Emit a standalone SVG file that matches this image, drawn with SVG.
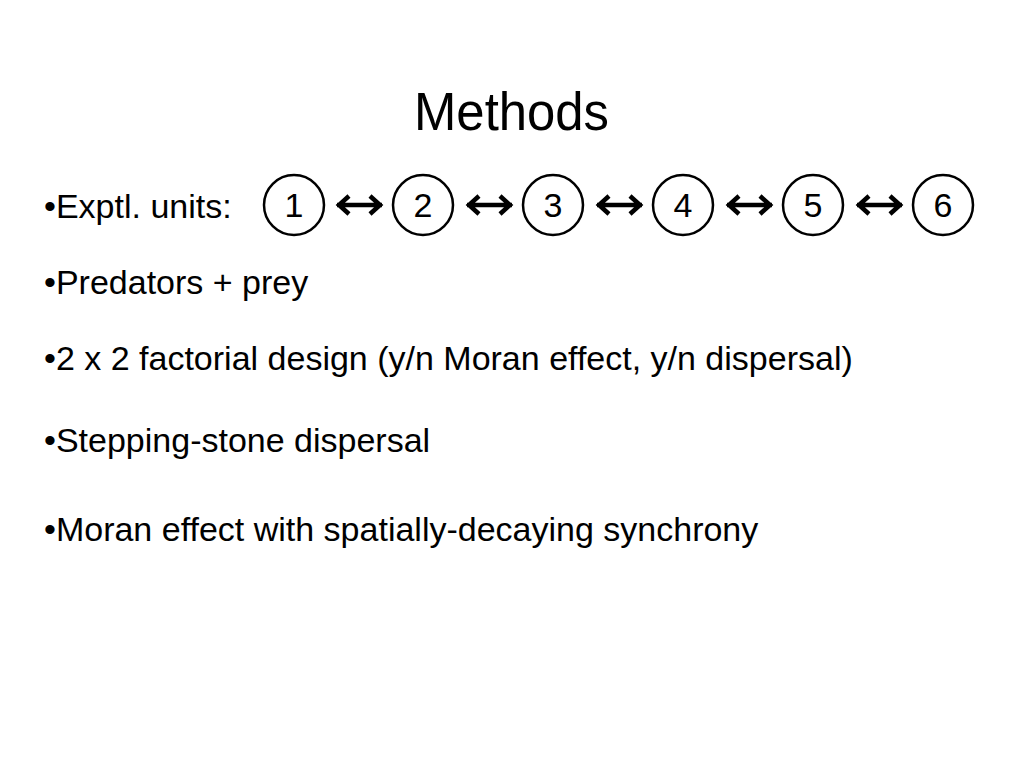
<svg xmlns="http://www.w3.org/2000/svg" width="1024" height="768" viewBox="0 0 1024 768">
<defs>
<style>
text{font-family:"Liberation Sans",Arial,sans-serif;fill:#000}
.t{font-size:53px}
.b{font-size:34px}
.n{font-size:34px;text-anchor:middle}
.c{fill:#fff;stroke:#000;stroke-width:2.5}
.a{fill:none;stroke:#000;stroke-width:4.5;stroke-linecap:butt;stroke-linejoin:miter}
</style>
</defs>
<rect width="1024" height="768" fill="#fff"/>
<text class="t" x="414" y="130" textLength="195" lengthAdjust="spacingAndGlyphs">Methods</text>
<g id="bullets">
<text class="b" x="44" y="218">•Exptl. units:</text>
<text class="b" x="44" y="294">•Predators + prey</text>
<text class="b" x="44" y="370">•2 x 2 factorial design (y/n Moran effect, y/n dispersal)</text>
<text class="b" x="44" y="452">•Stepping-stone dispersal</text>
<text class="b" x="44" y="541">•Moran effect with spatially-decaying synchrony</text>
</g>
<g id="n1"><circle class="c" cx="294" cy="205" r="30"/><text class="n" x="294" y="217">1</text></g>
<g id="n2"><circle class="c" cx="423" cy="205" r="30"/><text class="n" x="423" y="217">2</text></g>
<g id="n3"><circle class="c" cx="553" cy="205" r="30"/><text class="n" x="553" y="217">3</text></g>
<g id="n4"><circle class="c" cx="683" cy="205" r="30"/><text class="n" x="683" y="217">4</text></g>
<g id="n5"><circle class="c" cx="813" cy="205" r="30"/><text class="n" x="813" y="217">5</text></g>
<g id="n6"><circle class="c" cx="943" cy="205" r="30"/><text class="n" x="943" y="217">6</text></g>
<g id="connectors">
<path class="a" d="M337 205H382M349 196L339 205L349 214M370 196L380 205L370 214"/>
<path class="a" d="M467 205H512M479 196L469 205L479 214M500 196L510 205L500 214"/>
<path class="a" d="M597 205H642M609 196L599 205L609 214M630 196L640 205L630 214"/>
<path class="a" d="M727 205H772M739 196L729 205L739 214M760 196L770 205L760 214"/>
<path class="a" d="M857 205H902M869 196L859 205L869 214M890 196L900 205L890 214"/>
</g>
</svg>
